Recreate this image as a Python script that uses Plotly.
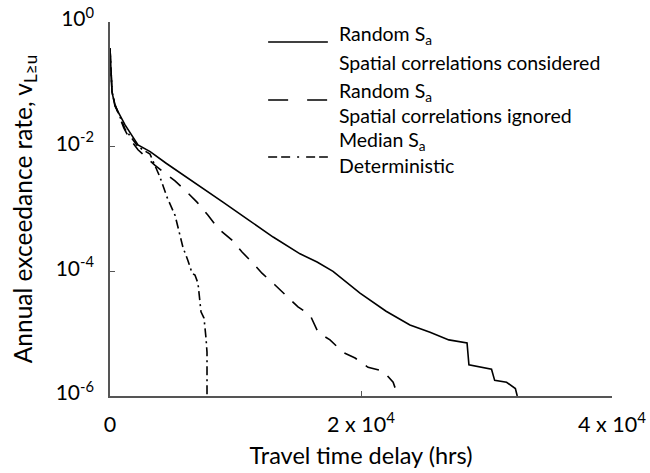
import plotly.graph_objects as go

# ---- data ----
x_corr = [0, 60, 160, 400, 1200, 2230, 3200, 4500, 5820, 7400, 9000, 11000, 13000,
          15140, 16500, 17770, 19920, 22000, 23900, 25500, 27000, 28450, 28600,
          30400, 30650, 31600, 32300, 32450]
y_corr = [0.380, 0.158, 0.0759, 0.0447, 0.0224, 0.0107, 0.00832, 0.00537, 0.00355,
          0.00214, 0.00129, 6.76e-4, 3.55e-4, 1.91e-4, 1.41e-4, 1.0e-4, 4.47e-5,
          2.29e-5, 1.38e-5, 1.05e-5, 7.94e-6, 7.08e-6, 3.16e-6, 2.69e-6, 1.78e-6,
          1.66e-6, 1.32e-6, 1.0e-6]

x_ign = [0, 60, 160, 400, 1100, 1500, 2230, 3590, 4380, 5180, 6140, 6930, 7810, 8610,
         9720, 10520, 11400, 12110, 13150, 14110, 14980, 15940, 16580, 17530, 18570,
         19530, 20560, 21760, 22560, 22950]
y_ign = [0.380, 0.158, 0.0759, 0.0468, 0.0200, 0.0141, 0.00891, 0.00501, 0.00380,
         0.00282, 0.00186, 0.00129, 7.94e-4, 4.90e-4, 3.16e-4, 2.04e-4, 1.35e-4,
         9.33e-5, 6.03e-5, 3.98e-5, 2.69e-5, 2.00e-5, 1.05e-5, 7.94e-6, 5.01e-6,
         4.07e-6, 2.88e-6, 2.51e-6, 1.66e-6, 1.0e-6]

x_med = [0, 60, 160, 400, 1200, 2230, 3190, 3985, 4540, 5180, 5340, 5820, 6200, 6540,
         6770, 7010, 7250, 7490, 7650, 7730, 7730]
y_med = [0.380, 0.158, 0.0759, 0.0468, 0.0191, 0.0100, 0.00759, 0.00324, 0.00155,
         7.94e-4, 5.89e-4, 2.40e-4, 1.51e-4, 9.33e-5, 8.71e-5, 6.46e-5, 2.24e-5,
         1.78e-5, 8.51e-6, 5.01e-6, 1.0e-6]

x_tickvals = [0, 20000, 40000]
x_ticktext = ["0", "2 x 10<sup>4</sup>", "4 x 10<sup>4</sup>"]
y_tickvals = [1, 1e-2, 1e-4, 1e-6]
y_ticktext = ["10<sup>0</sup>", "10<sup>-2</sup>", "10<sup>-4</sup>", "10<sup>-6</sup>"]

legend_first = ["Random S<sub>a</sub>", "Random S<sub>a</sub>", "Median S<sub>a</sub>"]
legend_second = ["Spatial correlations considered", "Spatial correlations ignored",
                 "Deterministic"]

FONT = "Lato, 'Open Sans', sans-serif"
AX = "#555555"
styles = ["solid", "14px,11px", "9px,4px,2px,4px"]

fig = go.Figure()
for xs, ys, dash, name in [(x_corr, y_corr, styles[0], legend_second[0]),
                           (x_ign, y_ign, styles[1], legend_second[1]),
                           (x_med, y_med, styles[2], legend_second[2])]:
    fig.add_trace(go.Scatter(x=xs, y=ys, mode="lines", name=name,
                             line=dict(color="black", width=1.6, dash=dash),
                             showlegend=False, hoverinfo="skip"))

# manual legend (paper coordinates)
row_line_y = [0.9465, 0.7914, 0.639]
row_t1_y = [0.966, 0.814, 0.6805]
row_t2_y = [0.893, 0.749, 0.615]
legend_dash = ["solid", "20px,19px", "9px,4px,9px,7px,2px,7px,9px,4px,9px"]
LEG = 19.5
for i in range(3):
    fig.add_shape(type="line", xref="paper", yref="paper",
                  x0=0.315, x1=0.434, y0=row_line_y[i], y1=row_line_y[i],
                  line=dict(color="black", width=1.6, dash=legend_dash[i]))
    fig.add_annotation(xref="paper", yref="paper", x=0.452, y=row_t1_y[i],
                       text=legend_first[i], showarrow=False, xanchor="left",
                       yanchor="middle", font=dict(size=LEG, color="black", family=FONT))
    fig.add_annotation(xref="paper", yref="paper", x=0.452, y=row_t2_y[i],
                       text=legend_second[i], showarrow=False, xanchor="left",
                       yanchor="middle", font=dict(size=LEG, color="black", family=FONT))

fig.update_layout(
    width=650, height=473,
    margin=dict(l=110, r=38, t=22, b=77),
    plot_bgcolor="white", paper_bgcolor="white",
    font=dict(family=FONT, color="black"),
    showlegend=False,
)
fig.update_xaxes(
    range=[0, 40000], tickvals=x_tickvals, ticktext=x_ticktext, automargin=False,
    showline=True, linecolor=AX, linewidth=1.5, mirror=False,
    ticks="inside", ticklen=5, tickcolor=AX, tickwidth=1.2,
    showgrid=False, zeroline=False, ticklabelstandoff=8, ticklabeloverflow="allow",
    tickfont=dict(size=21.5, family=FONT, color="black"),
    title=dict(text="Travel time delay (hrs)", font=dict(size=23.5, family=FONT, color="black"),
               standoff=12),
)
fig.update_yaxes(
    type="log", range=[-6, 0], tickvals=y_tickvals, ticktext=y_ticktext, automargin=False,
    showline=True, linecolor=AX, linewidth=1.5, mirror=False,
    ticks="inside", ticklen=5, tickcolor=AX, tickwidth=1.2,
    showgrid=False, zeroline=False, ticklabelstandoff=10, ticklabeloverflow="allow",
    ticklabelshift=-3,
    tickfont=dict(size=21, family=FONT, color="black"),
    title=dict(text="Annual exceedance rate, v<sub>L≥u</sub>",
               font=dict(size=24.5, family=FONT, color="black"), standoff=16),
)

fig.write_html(
    "out.html",
    config={"displayModeBar": False},
    post_script="document.body.style.margin='0';document.body.style.overflow='hidden';",
)
